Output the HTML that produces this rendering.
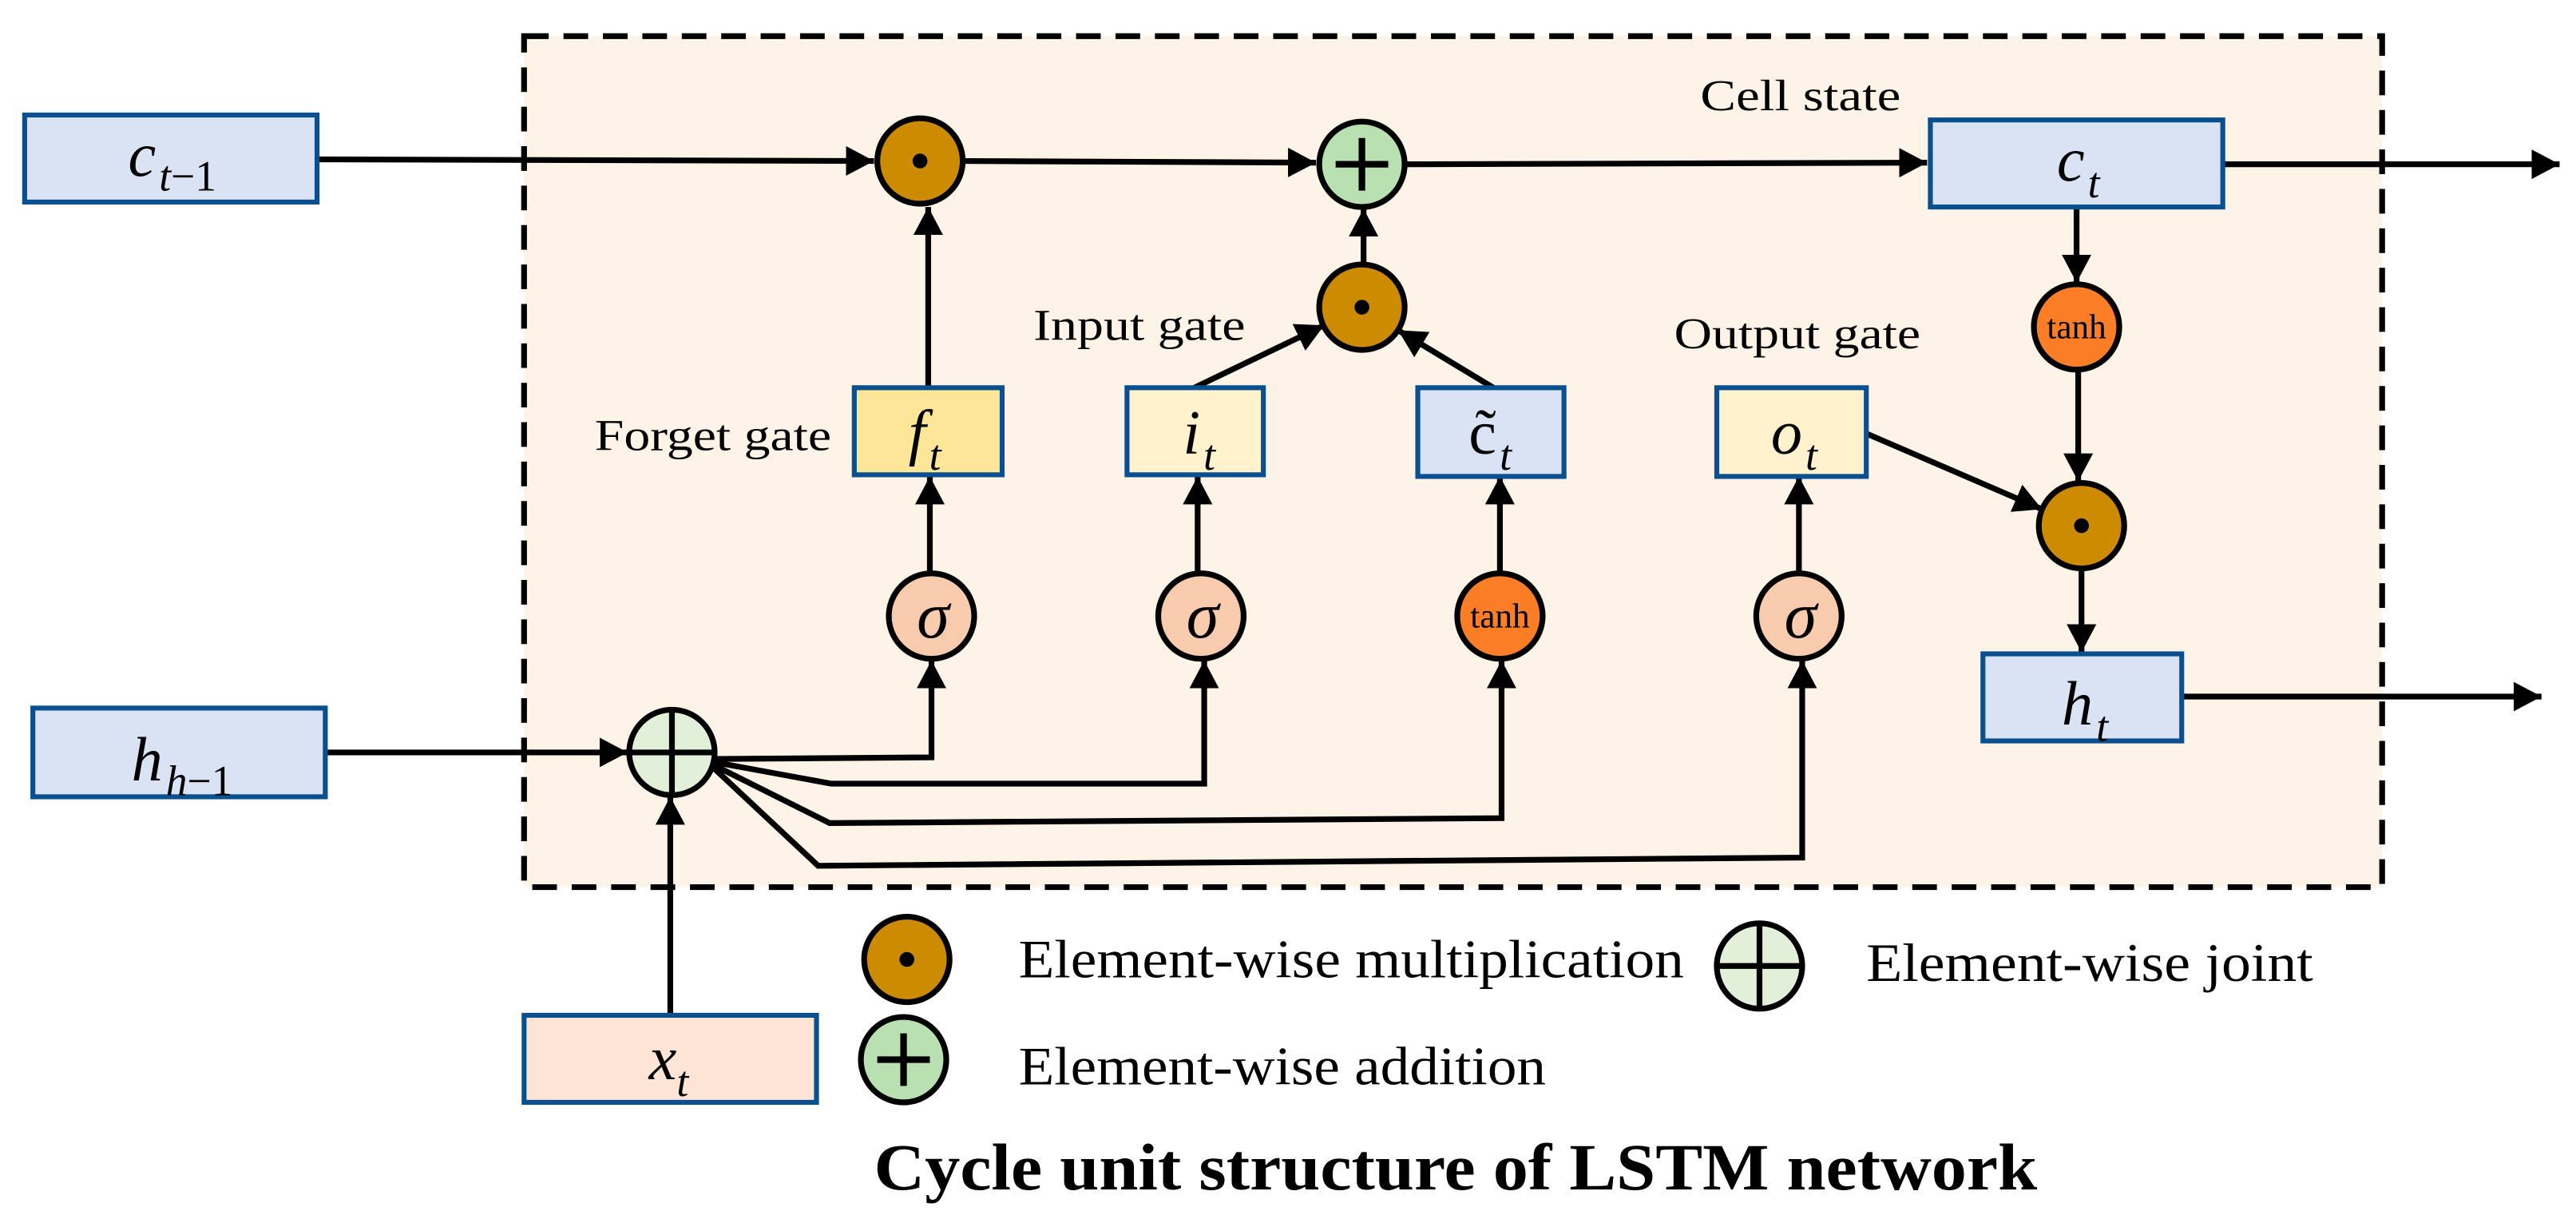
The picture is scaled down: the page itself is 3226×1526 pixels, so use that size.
<!DOCTYPE html>
<html><head><meta charset="utf-8"><style>
html,body{margin:0;padding:0;background:#fff;}
svg{display:block;font-family:"Liberation Serif","Times New Roman",serif;}
text,tspan{font-family:"Liberation Serif","Times New Roman",serif;fill:#000;}
.v{font-style:italic;font-size:38px;}
.s{font-style:italic;font-size:26px;}
.l{font-size:27px;}
.lg{font-size:33px;}
.th{font-size:21px;}
</style></head><body>
<svg width="3226" height="1526" viewBox="0 0 1568 742" preserveAspectRatio="none" xmlns="http://www.w3.org/2000/svg">
<defs>
<marker id="a" markerUnits="userSpaceOnUse" markerWidth="20" markerHeight="20" refX="17" refY="9" orient="auto">
<path d="M0,0 L17,9 L0,18 Z" fill="#000"/>
</marker>
</defs>
<rect x="319" y="22" width="1131" height="518" fill="#fef3e7" stroke="#000" stroke-width="3.5" stroke-dasharray="15,9"/>

<g stroke="#000" stroke-width="3.5" fill="none">
<line x1="193" y1="97" x2="532" y2="98" marker-end="url(#a)"/>
<line x1="586" y1="98" x2="801" y2="99" marker-end="url(#a)"/>
<line x1="855" y1="100" x2="1173" y2="99" marker-end="url(#a)"/>
<line x1="1353" y1="100" x2="1558" y2="100" marker-end="url(#a)"/>
<line x1="565" y1="236" x2="565" y2="126" marker-end="url(#a)"/>
<line x1="566" y1="349" x2="566" y2="290" marker-end="url(#a)"/>
<line x1="729" y1="349" x2="729" y2="290" marker-end="url(#a)"/>
<line x1="727" y1="236" x2="806" y2="198" marker-end="url(#a)"/>
<line x1="909" y1="236" x2="851" y2="201" marker-end="url(#a)"/>
<line x1="830" y1="161" x2="830" y2="127" marker-end="url(#a)"/>
<line x1="913" y1="349" x2="913" y2="290" marker-end="url(#a)"/>
<line x1="1095" y1="349" x2="1095" y2="290" marker-end="url(#a)"/>
<line x1="1134" y1="263" x2="1243" y2="310" marker-end="url(#a)"/>
<line x1="1264" y1="126" x2="1264" y2="172" marker-end="url(#a)"/>
<line x1="1265" y1="225" x2="1265" y2="293" marker-end="url(#a)"/>
<line x1="1267" y1="346" x2="1267" y2="397" marker-end="url(#a)"/>
<line x1="1328" y1="424" x2="1547" y2="424" marker-end="url(#a)"/>
<line x1="198" y1="458" x2="382" y2="458" marker-end="url(#a)"/>
<line x1="408" y1="618" x2="408" y2="485" marker-end="url(#a)"/>
<polyline points="435,462 567,461 567,402" marker-end="url(#a)"/>
<polyline points="435,464 506,477 733,477 733,402" marker-end="url(#a)"/>
<polyline points="435,466 505,501 914,498 914,402" marker-end="url(#a)"/>
<polyline points="435,468 498,527 1097,522 1097,402" marker-end="url(#a)"/>
</g>

<g stroke="#0a4f8f" stroke-width="3">
<rect x="15" y="70" width="178" height="53" fill="#dae3f3"/>
<rect x="20" y="431" width="178" height="54" fill="#dae3f3"/>
<rect x="319" y="618" width="178" height="53" fill="#fde4d4"/>
<rect x="520" y="236" width="90" height="53" fill="#fee699"/>
<rect x="686" y="236" width="83" height="53" fill="#fff2cc"/>
<rect x="863" y="236" width="89" height="54" fill="#dae3f3"/>
<rect x="1045" y="236" width="91" height="54" fill="#fff2cc"/>
<rect x="1175" y="73" width="178" height="53" fill="#dae3f3"/>
<rect x="1207" y="398" width="121" height="53" fill="#dae3f3"/>
</g>

<g stroke="#000" stroke-width="3.5">
<circle cx="560" cy="98" r="26" fill="#cc8b00"/>
<circle cx="829" cy="100" r="26" fill="#b9e0b0"/>
<circle cx="829" cy="187" r="26" fill="#cc8b00"/>
<circle cx="567" cy="375" r="26" fill="#f8cbad"/>
<circle cx="731" cy="375" r="26" fill="#f8cbad"/>
<circle cx="913" cy="375" r="26" fill="#fb7d26"/>
<circle cx="1095" cy="375" r="26" fill="#f8cbad"/>
<circle cx="1264" cy="199" r="26" fill="#fb7d26"/>
<circle cx="1267" cy="320" r="26" fill="#cc8b00"/>
<circle cx="409" cy="458" r="26" fill="#e2f0d9"/>
<circle cx="552" cy="584" r="26" fill="#cc8b00"/>
<circle cx="550" cy="645" r="26" fill="#b9e0b0"/>
<circle cx="1071" cy="588" r="26" fill="#e2f0d9"/>
</g>
<g fill="#000">
<circle cx="560" cy="98" r="4.5"/><circle cx="829" cy="187" r="4.5"/>
<circle cx="1267" cy="320" r="4.5"/><circle cx="552" cy="584" r="4.5"/>
</g>
<g stroke="#000" stroke-width="4">
<line x1="813" y1="100" x2="845" y2="100"/><line x1="829" y1="84" x2="829" y2="116"/>
<line x1="534" y1="645" x2="566" y2="645"/><line x1="550" y1="629" x2="550" y2="661"/>
</g>
<g stroke="#000" stroke-width="3.5">
<line x1="383" y1="458" x2="435" y2="458"/><line x1="409" y1="432" x2="409" y2="484"/>
<line x1="1045" y1="588" x2="1097" y2="588"/><line x1="1071" y1="562" x2="1071" y2="614"/>
</g>

<g text-anchor="middle">
<text class="v" x="568" y="388" style="font-size:40px">σ</text>
<text class="v" x="732" y="388" style="font-size:40px">σ</text>
<text class="v" x="1096" y="388" style="font-size:40px">σ</text>
<text class="th" x="913" y="382">tanh</text>
<text class="th" x="1264" y="206">tanh</text>
</g>

<text x="78" y="107"><tspan class="v">c</tspan><tspan class="s" dx="2" dy="9">t</tspan><tspan style="font-size:26px">−1</tspan></text>
<text x="80" y="475"><tspan class="v">h</tspan><tspan class="s" dx="2" dy="9">h</tspan><tspan style="font-size:26px">−1</tspan></text>
<text x="395" y="657"><tspan class="v">x</tspan><tspan class="s" dx="0" dy="10">t</tspan></text>
<text x="553" y="276"><tspan class="v">f</tspan><tspan class="s" dx="2" dy="10">t</tspan></text>
<text x="720" y="276"><tspan class="v">i</tspan><tspan class="s" dx="2" dy="10">t</tspan></text>
<text x="894" y="276"><tspan style="font-size:38px">c̃</tspan><tspan class="s" dx="2" dy="10">t</tspan></text>
<text x="1078" y="276"><tspan class="v">o</tspan><tspan class="s" dx="2" dy="10">t</tspan></text>
<text x="1252" y="110"><tspan class="v">c</tspan><tspan class="s" dx="2" dy="10">t</tspan></text>
<text x="1255" y="441"><tspan class="v">h</tspan><tspan class="s" dx="2" dy="10">t</tspan></text>

<text class="l" x="362" y="274" textLength="144" lengthAdjust="spacingAndGlyphs">Forget gate</text>
<text class="l" x="629" y="207" textLength="129" lengthAdjust="spacingAndGlyphs">Input gate</text>
<text class="l" x="1035" y="67" textLength="122" lengthAdjust="spacingAndGlyphs">Cell state</text>
<text class="l" x="1019" y="212" textLength="150" lengthAdjust="spacingAndGlyphs">Output gate</text>

<text class="lg" x="620" y="595" textLength="405" lengthAdjust="spacingAndGlyphs">Element-wise multiplication</text>
<text class="lg" x="620" y="660" textLength="321" lengthAdjust="spacingAndGlyphs">Element-wise addition</text>
<text class="lg" x="1136" y="597" textLength="272" lengthAdjust="spacingAndGlyphs">Element-wise joint</text>
<text x="532" y="724" style="font-size:40px;font-weight:bold" textLength="708" lengthAdjust="spacingAndGlyphs">Cycle unit structure of LSTM network</text>
</svg>
</body></html>
